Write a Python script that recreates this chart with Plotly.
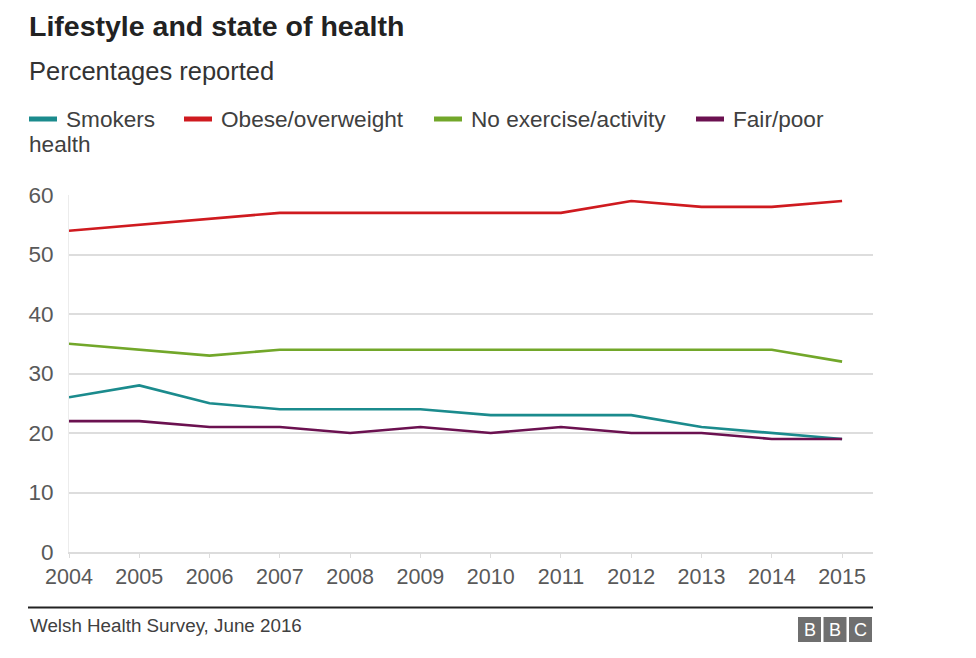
import plotly.graph_objects as go

years = [2004, 2005, 2006, 2007, 2008, 2009, 2010, 2011, 2012, 2013, 2014, 2015]
smokers = [26, 28, 25, 24, 24, 24, 23, 23, 23, 21, 20, 19]
obese = [54, 55, 56, 57, 57, 57, 57, 57, 59, 58, 58, 59]
no_exercise = [35, 34, 33, 34, 34, 34, 34, 34, 34, 34, 34, 32]
fair_poor = [22, 22, 21, 21, 20, 21, 20, 21, 20, 20, 19, 19]

series_names = ["Smokers", "Obese/overweight", "No exercise/activity", "Fair/poor"]
series_values = [smokers, obese, no_exercise, fair_poor]
colors = ["#1b8b8d", "#cf1a1f", "#72a72a", "#6b1150"]

y_ticks = [0, 10, 20, 30, 40, 50, 60]

W, H = 976, 658
L, R, T, B = 69, 873, 195, 552
FONT = "Liberation Sans, Arial, sans-serif"


def px(x):
    return (x - L) / (R - L)


def py(y):
    return (B - y) / (B - T)


fig = go.Figure()
for name, vals, c in zip(series_names, series_values, colors):
    fig.add_trace(go.Scatter(x=years, y=vals, mode="lines", name=name,
                             line=dict(color=c, width=2.6), showlegend=False))

annotations = []
shapes = []

# Title and subtitle
annotations.append(dict(text="<b>Lifestyle and state of health</b>", x=px(27), y=py(26),
                        xref="paper", yref="paper", xanchor="left", yanchor="middle",
                        showarrow=False, font=dict(size=28.5, color="#222222", family=FONT)))
annotations.append(dict(text="Percentages reported", x=px(27), y=py(71),
                        xref="paper", yref="paper", xanchor="left", yanchor="middle",
                        showarrow=False, font=dict(size=25.5, color="#333333", family=FONT)))

# Manual legend (wrapping like the original)
legend_swatch_x = [29, 184, 434, 696]
for name, c, sx in zip(series_names, colors, legend_swatch_x):
    shapes.append(dict(type="line", xref="paper", yref="paper",
                       x0=px(sx), x1=px(sx + 28), y0=py(119), y1=py(119),
                       line=dict(color=c, width=5)))
    annotations.append(dict(text=name, x=px(sx + 35), y=py(119), xref="paper", yref="paper",
                            xanchor="left", yanchor="middle", showarrow=False,
                            font=dict(size=22.6, color="#404040", family=FONT)))
annotations.append(dict(text="health", x=px(27), y=py(144), xref="paper", yref="paper",
                        xanchor="left", yanchor="middle", showarrow=False,
                        font=dict(size=22.6, color="#404040", family=FONT)))

# Footer
shapes.append(dict(type="line", xref="paper", yref="paper", x0=px(28), x1=px(873),
                   y0=py(607.5), y1=py(607.5), line=dict(color="#222222", width=2)))
annotations.append(dict(text="Welsh Health Survey, June 2016", x=px(28), y=py(625),
                        xref="paper", yref="paper", xanchor="left", yanchor="middle",
                        showarrow=False, font=dict(size=18.8, color="#404040", family=FONT)))
for i, letter in enumerate(["B", "B", "C"]):
    x0 = 798 + i * 25.5
    shapes.append(dict(type="rect", xref="paper", yref="paper", x0=px(x0), x1=px(x0 + 23),
                       y0=py(642), y1=py(617), fillcolor="#6f6f6f", line=dict(width=0)))
    annotations.append(dict(text=letter, x=px(x0 + 11.5), y=py(629.5), xref="paper", yref="paper",
                            xanchor="center", yanchor="middle", showarrow=False,
                            font=dict(size=18, color="white", family=FONT)))

fig.update_layout(
    width=W, height=H, autosize=False,
    margin=dict(l=L, r=W - R, t=T, b=H - B, pad=0),
    paper_bgcolor="white", plot_bgcolor="white",
    showlegend=False,
    annotations=annotations, shapes=shapes,
    xaxis=dict(range=[2004, 2015.44], tickmode="array", tickvals=years,
               ticktext=[str(y) for y in years],
               showgrid=False, zeroline=False, showline=True, linecolor="#dcdcdc", linewidth=1.5,
               ticks="outside", ticklen=4, tickcolor="#dcdcdc", tickwidth=1,
               tickfont=dict(size=21.5, color="#595959", family=FONT)),
    yaxis=dict(range=[0, 60], tickmode="array", tickvals=y_ticks,
               showgrid=True, gridcolor="#dddddd", gridwidth=2,
               zeroline=False, showline=True, linecolor="#ececec", linewidth=1,
               ticks="", ticklabelstandoff=10,
               tickfont=dict(size=22.5, color="#595959", family=FONT)),
)

fig.write_html("out.html")
